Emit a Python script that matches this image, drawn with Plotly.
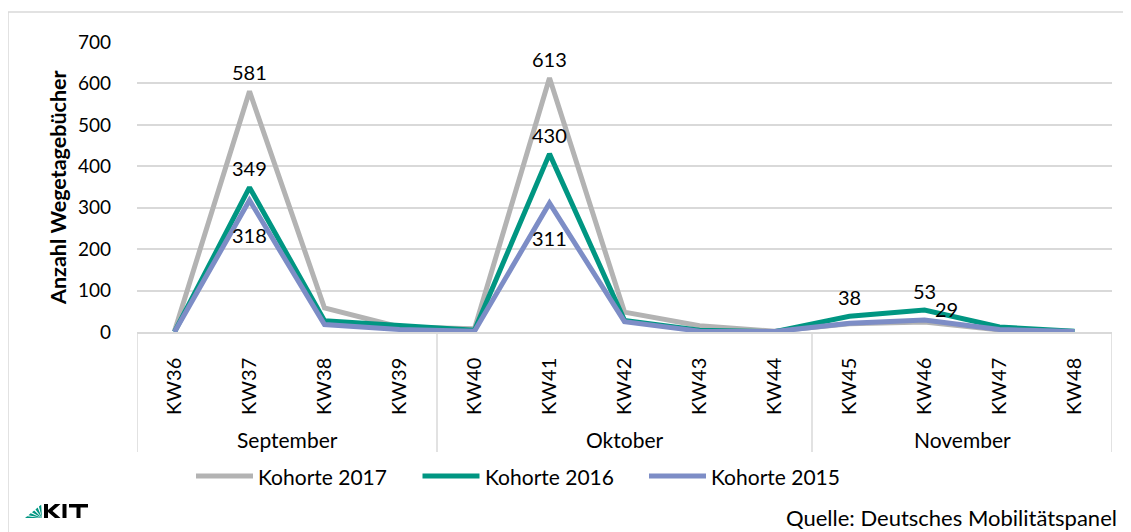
import math
import plotly.graph_objects as go

# Wochen und Werte
weeks = ["KW36", "KW37", "KW38", "KW39", "KW40", "KW41", "KW42",
         "KW43", "KW44", "KW45", "KW46", "KW47", "KW48"]
months = ["September", "Oktober", "November"]
weeks_per_month = [4, 5, 4]

series_names = ["Kohorte 2017", "Kohorte 2016", "Kohorte 2015"]
k2017 = [2, 581, 58, 12, 8, 613, 48, 15, 2, 20, 24, 5, 1]
k2016 = [0, 349, 27, 15, 4, 430, 28, 4, 1, 38, 53, 12, 2]
k2015 = [0, 318, 18, 6, 2, 311, 25, 2, 1, 21, 29, 6, 1]

# welche Punkte beschriftet sind: (Serie, Index, Lage)
labels = [(0, 1, "top"), (0, 5, "top"),
          (1, 1, "top"), (1, 5, "top"), (1, 9, "top"), (1, 10, "top"),
          (2, 1, "bottom"), (2, 5, "bottom"), (2, 10, "right")]

colors = ["#b3b3b3", "#009682", "#7d8dc6"]
FONT = "Lato"

# Koordinaten im Bildschirmfoto; die Seite hat 8px Rand
W, H, OFF = 1131, 532, 8
L, R, T, B = 137, 1112, 42, 332
PW, PH = R - L, B - T


def px(x):
    return (x - L) / PW


def py(y):
    return (B - y) / PH


fig = go.Figure()
all_values = [k2017, k2016, k2015]
for name, vals, col in zip(series_names, all_values, colors):
    fig.add_trace(go.Scatter(x=list(range(len(weeks))), y=vals, mode="lines",
                             name=name, line=dict(color=col, width=5),
                             showlegend=False))

shapes = []
annotations = []

# Datenbeschriftungen
for s, i, pos in labels:
    v = all_values[s][i]
    a = dict(x=i, y=v, xref="x", yref="y", text=str(v), showarrow=False,
             font=dict(family=FONT, size=20, color="#000000"))
    if pos == "top":
        a.update(xanchor="center", yanchor="bottom", yshift=5)
    elif pos == "bottom":
        a.update(xanchor="center", yanchor="top", yshift=-21)
    else:
        a.update(xanchor="left", yanchor="middle", xshift=8, yshift=11)
    annotations.append(a)

# Monatsgruppen und Trennlinien
start = 0
bounds = [-0.5]
for m, n in zip(months, weeks_per_month):
    center = start + (n - 1) / 2
    annotations.append(dict(x=center, y=py(439), xref="x", yref="paper",
                            xanchor="center", yanchor="middle",
                            text=m, showarrow=False,
                            font=dict(family=FONT, size=21, color="#000000")))
    start += n
    bounds.append(start - 0.5)
for b in bounds:
    shapes.append(dict(type="line", xref="x", yref="paper", x0=b, x1=b,
                       y0=0, y1=py(452), line=dict(color="#d9d9d9", width=1.5)))

# Legende (Linien wie im Original etwas laenger)
for k, (name, col) in enumerate(zip(series_names, colors)):
    x0 = 196 + 226.5 * k
    shapes.append(dict(type="line", xref="paper", yref="paper",
                       x0=px(x0), x1=px(x0 + 57), y0=py(476), y1=py(476),
                       line=dict(color=col, width=5)))
    annotations.append(dict(x=px(x0 + 60), y=py(476), xref="paper", yref="paper",
                            xanchor="left", yanchor="middle", text=name,
                            showarrow=False,
                            font=dict(family=FONT, size=21, color="#000000")))

# Achsentitel
annotations.append(dict(x=px(58), y=py(188), xref="paper", yref="paper",
                        xanchor="center", yanchor="middle",
                        text="<b>Anzahl Wegetagebücher</b>", textangle=-90,
                        showarrow=False,
                        font=dict(family=FONT, size=21.5, color="#000000")))

# Quelle
annotations.append(dict(x=px(1119), y=py(517), xref="paper", yref="paper",
                        xanchor="right", yanchor="middle",
                        text="Quelle: Deutsches Mobilitätspanel",
                        showarrow=False,
                        font=dict(family=FONT, size=22, color="#000000")))


def poly(pts, color):
    path = "M " + " L ".join(f"{px(x):.5f},{py(y):.5f}" for x, y in pts) + " Z"
    shapes.append(dict(type="path", xref="paper", yref="paper", path=path,
                       fillcolor=color, line=dict(width=0)))


# KIT Logo: gruener Faecher
O, A, Bp = (42, 518), (25, 518), (42, 504)
for k in range(5):
    t0, t1 = k * 0.205, k * 0.205 + 0.13
    p0 = (A[0] + t0 * (Bp[0] - A[0]), A[1] + t0 * (Bp[1] - A[1]))
    p1 = (A[0] + t1 * (Bp[0] - A[0]), A[1] + t1 * (Bp[1] - A[1]))
    poly([O, p0, p1], "#009682")
# K, I, T
poly([(44, 504), (48, 504), (48, 518), (44, 518)], "#000000")
poly([(48, 510), (55, 504), (60.5, 504), (52.5, 511), (60.5, 518), (55, 518), (48, 512)], "#000000")
poly([(62.5, 504), (66.5, 504), (66.5, 518), (62.5, 518)], "#000000")
poly([(69, 504), (88, 504), (88, 507.5), (69, 507.5)], "#000000")
poly([(76.5, 504), (80.5, 504), (80.5, 518), (76.5, 518)], "#000000")

# Rahmen
shapes.append(dict(type="rect", xref="paper", yref="paper",
                   x0=px(8), x1=px(1145), y0=py(545), y1=py(12),
                   line=dict(color="#d9d9d9", width=1.5)))

fig.update_layout(
    width=W - OFF, height=H - OFF,
    margin=dict(l=L - OFF, r=W - R, t=T - OFF, b=H - B),
    paper_bgcolor="white", plot_bgcolor="white",
    font=dict(family=FONT, size=20, color="#000000"),
    showlegend=False,
    xaxis=dict(tickmode="array", tickvals=list(range(len(weeks))),
               ticktext=weeks, tickangle=-90, range=[-0.5, len(weeks) - 0.5],
               showgrid=False, zeroline=False, showline=True,
               linecolor="#d9d9d9", linewidth=1.5, ticks="",
               ticklabelstandoff=16, tickfont=dict(size=20)),
    yaxis=dict(range=[0, 700], dtick=100, showgrid=True, gridcolor="#d9d9d9",
               gridwidth=1.5, zeroline=False, showline=False, ticks="",
               ticklabelstandoff=25, tickfont=dict(size=19)),
    shapes=shapes,
    annotations=annotations,
)

fig.write_html("out.html")
